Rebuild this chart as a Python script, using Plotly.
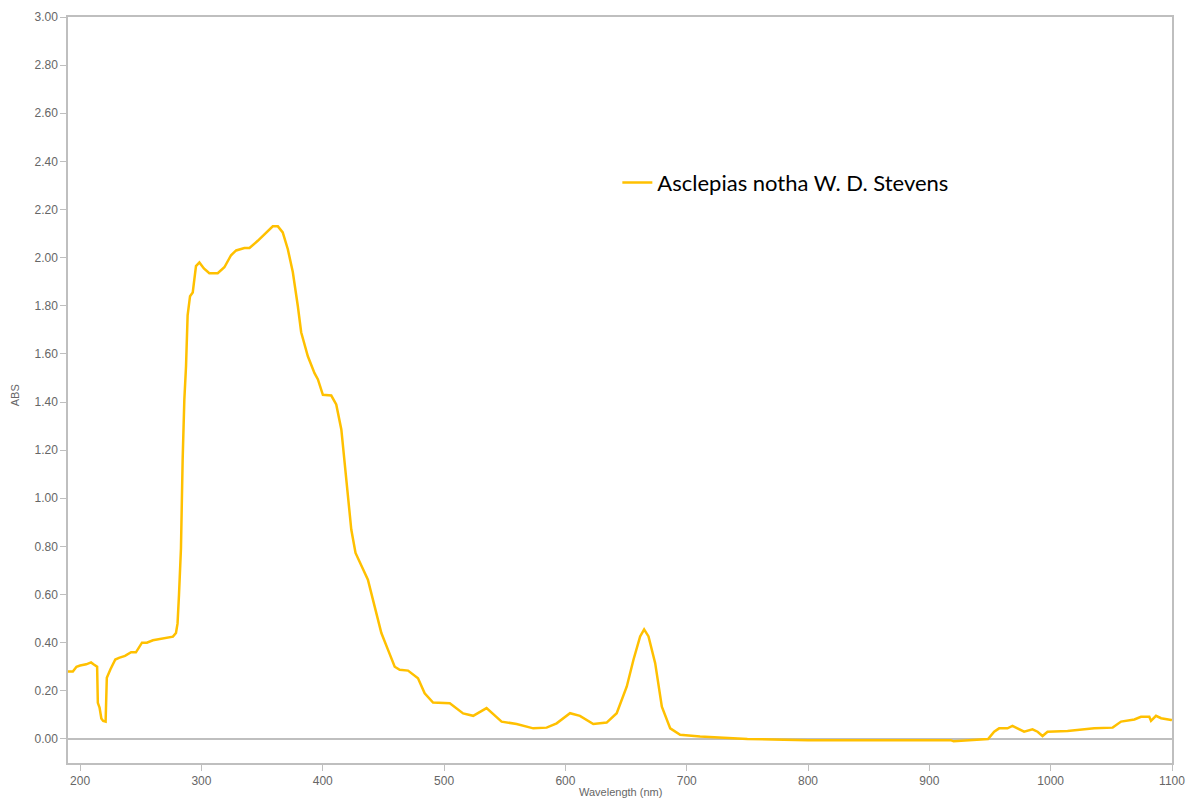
import plotly.graph_objects as go

wavelength = [190, 194, 197, 200, 205, 209, 211, 213, 214, 214.6, 216, 217.5, 219, 221, 221.5, 222,
              225, 229, 232, 237, 242, 246, 251, 255, 260, 266, 272, 276.5, 279, 280.3, 281.5, 283.1,
              284.5, 285.9, 287.3, 288.6, 290.6, 292.8, 295.5, 298.3, 302, 306.5, 313.4, 318.9, 324.4,
              328.6, 335.4, 339.6, 346.4, 353.3, 358.8, 363, 367, 371.2, 375.3, 379.4, 382.2, 387.7,
              393.2, 396, 400.1, 407, 411.1, 415.3, 418, 420.7, 423.5, 427, 431.8, 437.2, 442.8, 448.3,
              453.8, 459.3, 463.4, 470.3, 478.5, 484, 490.9, 504.7, 515.7, 524, 535, 547.4, 559.8,
              573.5, 584.5, 592.8, 603.8, 612, 623, 634, 642.3, 650.6, 656.1, 661.6, 664.9, 668.5,
              674, 679.5, 686.4, 694.6, 711, 727.7, 750, 780, 800, 850, 876.3, 917.6, 920, 934,
              948.4, 953.4, 957.5, 964.4, 968.5, 972.6, 978.1, 985, 989.2, 993.3, 997.4, 1013.9,
              1022.2, 1035.9, 1051.1, 1058, 1069, 1074.4, 1081.3, 1082.7, 1086.8, 1091, 1099.3, 1100]
absorbance = [0.28, 0.28, 0.30, 0.305, 0.31, 0.318, 0.31, 0.305, 0.30, 0.15, 0.13, 0.085, 0.075, 0.072, 0.16, 0.254,
              0.29, 0.33, 0.337, 0.345, 0.36, 0.36, 0.40, 0.40, 0.41, 0.415, 0.42, 0.425, 0.44, 0.48, 0.60, 0.79,
              1.16, 1.41, 1.55, 1.76, 1.84, 1.855, 1.965, 1.98, 1.955, 1.935, 1.935, 1.96, 2.01,
              2.03, 2.04, 2.04, 2.07, 2.105, 2.13, 2.13, 2.105, 2.035, 1.94, 1.80, 1.69, 1.59,
              1.52, 1.494, 1.43, 1.427, 1.39, 1.286, 1.147, 1.008, 0.87, 0.773, 0.724, 0.662, 0.55, 0.44,
              0.37, 0.30, 0.287, 0.284, 0.252, 0.19, 0.151, 0.148, 0.106, 0.096, 0.128, 0.072, 0.062,
              0.044, 0.047, 0.065, 0.107, 0.096, 0.062, 0.068, 0.107, 0.218, 0.329, 0.426, 0.455, 0.426,
              0.315, 0.134, 0.044, 0.017, 0.01, 0.005, 0.0, -0.003, -0.005, -0.005, -0.005, -0.005, -0.01, -0.005,
              0.0, 0.03, 0.044, 0.044, 0.054, 0.044, 0.03, 0.04, 0.03, 0.012, 0.03, 0.033,
              0.037, 0.044, 0.047, 0.072, 0.081, 0.092, 0.092, 0.075, 0.096, 0.086, 0.079, 0.078]

series_name = "Asclepias notha W. D. Stevens"
x_title = "Wavelength (nm)"
y_title = "ABS"
x_ticks = [200, 300, 400, 500, 600, 700, 800, 900, 1000, 1100]
y_ticks = [0.0, 0.2, 0.4, 0.6, 0.8, 1.0, 1.2, 1.4, 1.6, 1.8, 2.0, 2.2, 2.4, 2.6, 2.8, 3.0]

fig = go.Figure()
fig.add_trace(go.Scatter(x=wavelength, y=absorbance, mode="lines", name=series_name,
                         line=dict(color="#FFC000", width=2.5)))

axis_common = dict(showline=True, linecolor="#BFBFBF", linewidth=1.5, mirror=True,
                   showgrid=False, ticks="outside", ticklen=6, tickcolor="#BFBFBF",
                   automargin=False,
                   tickfont=dict(family="Liberation Sans, Arial", size=12, color="#666666"))

title_font = dict(family="Liberation Sans, Arial", size=11, color="#666666")

fig.update_layout(
    width=1188, height=803,
    margin=dict(l=68, r=16, t=17, b=40),
    plot_bgcolor="white", paper_bgcolor="white",
    showlegend=True,
    legend=dict(x=0.4976, y=0.778, xanchor="left", yanchor="middle",
                font=dict(family="Lato, Open Sans", size=22, color="#000000"),
                bgcolor="rgba(0,0,0,0)", itemwidth=30),
    xaxis=dict(range=[190, 1100], tickvals=x_ticks, zeroline=False, **axis_common),
    yaxis=dict(range=[-0.1, 3.0], tickvals=y_ticks, tickformat=".2f",
               zeroline=True, zerolinecolor="#BFBFBF", zerolinewidth=1.5, **axis_common),
    annotations=[
        dict(text=x_title, xref="paper", yref="paper", x=0.5, y=-0.039,
             xanchor="center", yanchor="middle", showarrow=False, font=title_font),
        dict(text=y_title, xref="paper", yref="paper", x=-0.048, y=0.493, textangle=-90,
             xanchor="center", yanchor="middle", showarrow=False, font=title_font),
    ],
)

fig.write_html("out.html", config={"displayModeBar": False},
               post_script="document.body.style.margin='0px';document.body.style.overflow='hidden';")
